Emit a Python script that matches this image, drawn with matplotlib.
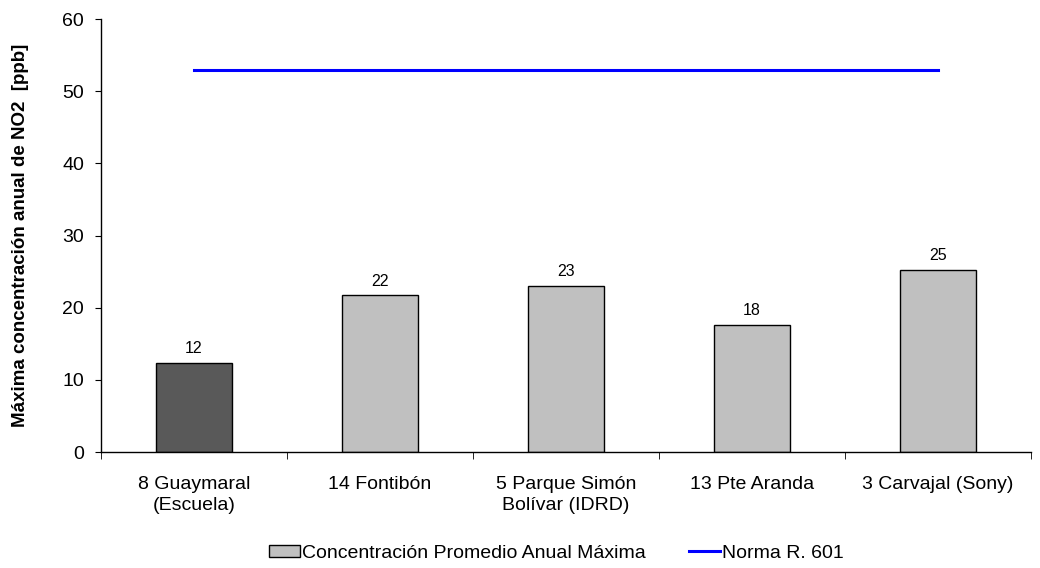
import matplotlib.pyplot as plt
from matplotlib.patches import Patch
from matplotlib.lines import Line2D
import numpy as np

plt.rcParams['font.family'] = ['Liberation Sans', 'DejaVu Sans']

# ── data ──────────────────────────────────────────────────────────────────────
stations = ["8 Guaymaral\n(Escuela)", "14 Fontibón", "5 Parque Simón\nBolívar (IDRD)",
            "13 Pte Aranda", "3 Carvajal (Sony)"]
max_annual = [12.4, 21.7, 23.0, 17.6, 25.3]
norma = [53, 53, 53, 53, 53]
bar_colors = ["#595959", "#c0c0c0", "#c0c0c0", "#c0c0c0", "#c0c0c0"]

# ── figure ────────────────────────────────────────────────────────────────────
fig = plt.figure(figsize=(10.4, 5.68), dpi=100)
ax = fig.add_axes([0.097, 0.204, 0.894, 0.7625])

x = np.arange(len(stations))
bars = ax.bar(x, max_annual, width=0.41, color=bar_colors, edgecolor="black",
              linewidth=1.0, zorder=2)
ax.bar_label(bars, labels=[f"{v:.0f}" for v in max_annual], padding=5, fontsize=11.5)
ax.plot(x, norma, color="#0000ff", lw=2.2, zorder=3)

ax.set_xlim(-0.5, len(stations) - 0.5)
ax.set_ylim(0, 60)
ax.set_yticks(np.arange(0, 61, 10))
ax.tick_params(axis="y", labelsize=14, length=4, pad=8, direction="out")

# category labels centred, ticks on boundaries
ax.set_xticks(x)
ax.set_xticklabels(stations, fontsize=14, linespacing=1.35)
ax.tick_params(axis="x", which="major", length=0, pad=17)
ax.set_xticks(np.arange(-0.5, len(stations)), minor=True)
ax.tick_params(axis="x", which="minor", length=5, direction="out")

for s in ["top", "right"]:
    ax.spines[s].set_visible(False)
ax.spines["left"].set_linewidth(1.0)
ax.spines["bottom"].set_linewidth(1.0)

ax.set_ylabel("Máxima concentración anual de NO2  [ppb]", fontsize=13.5,
              fontweight="bold", labelpad=24)

handles = [Patch(facecolor="#c0c0c0", edgecolor="black", linewidth=1.0),
           Line2D([], [], color="#0000ff", lw=2.2)]
labels = ["Concentración Promedio Anual Máxima", "Norma R. 601"]
fig.legend(handles, labels, loc="center", bbox_to_anchor=(0.535, 0.026), ncol=2,
           frameon=False, fontsize=14, handlelength=1.6, handleheight=0.55,
           handletextpad=0.1, columnspacing=2.2)

plt.savefig("out.png", dpi=100)
plt.close()
